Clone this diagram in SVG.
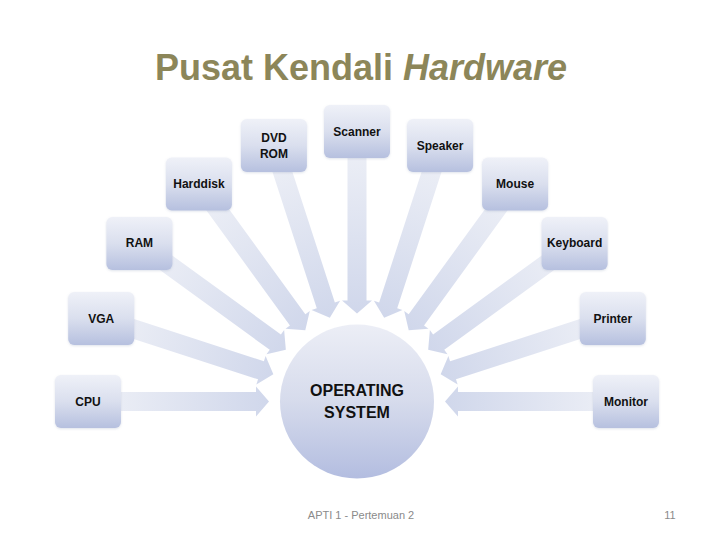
<svg xmlns="http://www.w3.org/2000/svg" xmlns:xlink="http://www.w3.org/1999/xlink" width="720" height="540" viewBox="0 0 720 540">
  <defs>
    <linearGradient id="boxGrad" x1="0" y1="0" x2="0" y2="1">
      <stop offset="0" stop-color="#eff1f8"/>
      <stop offset="0.5" stop-color="#dadfee"/>
      <stop offset="1" stop-color="#b6c0df"/>
    </linearGradient>
    <linearGradient id="circGrad" x1="0" y1="0" x2="0" y2="1">
      <stop offset="0" stop-color="#eceef6"/>
      <stop offset="0.5" stop-color="#d6dbec"/>
      <stop offset="1" stop-color="#b3bde0"/>
    </linearGradient>
    <linearGradient id="arrowGrad" x1="0" y1="0" x2="1" y2="0">
      <stop offset="0" stop-color="#eff1f7"/>
      <stop offset="1" stop-color="#d0d7eb"/>
    </linearGradient>
    <path id="arrow" d="M0,-9.5 H168 V-15 L181,0 L168,15 V9.5 H0 Z" fill="url(#arrowGrad)"/>
    <filter id="sh" x="-20%" y="-20%" width="140%" height="140%">
      <feDropShadow dx="0" dy="1" stdDeviation="1" flood-color="#8090b0" flood-opacity="0.25"/>
    </filter>
  </defs>
  <style>
    .box { fill: url(#boxGrad); filter: url(#sh); }
    .lbl { font-family: "Liberation Sans", Arial, sans-serif; font-size: 12px; font-weight: bold; fill: #111; text-anchor: middle; }
    .os { font-family: "Liberation Sans", Arial, sans-serif; font-size: 16px; font-weight: bold; fill: #111; text-anchor: middle; }
    .title { font-family: "Liberation Sans", Arial, sans-serif; font-size: 36px; font-weight: bold; fill: #8c8659; text-anchor: middle; }
    .foot { font-family: "Liberation Sans", Arial, sans-serif; font-size: 11px; fill: #8a8a8a; }
  </style>
  <rect width="720" height="540" fill="#ffffff"/>

  <text class="title" x="361" y="80">Pusat Kendali <tspan font-style="italic">Hardware</tspan></text>

  <g id="connectors">
    <use xlink:href="#arrow" transform="translate(88,401.5) rotate(0)"/>
    <use xlink:href="#arrow" transform="translate(101.2,318.4) rotate(18)"/>
    <use xlink:href="#arrow" transform="translate(139.4,243.4) rotate(36)"/>
    <use xlink:href="#arrow" transform="translate(198.9,183.9) rotate(54)"/>
    <use xlink:href="#arrow" transform="translate(273.9,145.6) rotate(72)"/>
    <use xlink:href="#arrow" transform="translate(357,132.5) rotate(90)"/>
    <use xlink:href="#arrow" transform="translate(440.1,145.6) rotate(108)"/>
    <use xlink:href="#arrow" transform="translate(515.1,183.9) rotate(126)"/>
    <use xlink:href="#arrow" transform="translate(574.6,243.4) rotate(144)"/>
    <use xlink:href="#arrow" transform="translate(612.8,318.4) rotate(162)"/>
    <use xlink:href="#arrow" transform="translate(626,401.5) rotate(180)"/>
  </g>

  <g id="os">
    <circle cx="357" cy="401.5" r="77" fill="url(#circGrad)"/>
    <text class="os" x="357" y="396">OPERATING</text>
    <text class="os" x="357" y="418">SYSTEM</text>
  </g>

  <g id="cpu">
    <rect class="box" x="55" y="375" width="66" height="53" rx="6"/>
    <text class="lbl" x="88" y="406">CPU</text>
  </g>
  <g id="vga">
    <rect class="box" x="68.2" y="292" width="66" height="53" rx="6"/>
    <text class="lbl" x="101.2" y="323">VGA</text>
  </g>
  <g id="ram">
    <rect class="box" x="106.4" y="217" width="66" height="53" rx="6"/>
    <text class="lbl" x="139.4" y="247">RAM</text>
  </g>
  <g id="harddisk">
    <rect class="box" x="165.9" y="157.4" width="66" height="53" rx="6"/>
    <text class="lbl" x="198.9" y="188">Harddisk</text>
  </g>
  <g id="dvdrom">
    <rect class="box" x="240.9" y="119" width="66" height="53" rx="6"/>
    <text class="lbl" x="273.9" y="142">DVD</text>
    <text class="lbl" x="273.9" y="158">ROM</text>
  </g>
  <g id="scanner">
    <rect class="box" x="324" y="105" width="66" height="53" rx="6"/>
    <text class="lbl" x="357" y="136">Scanner</text>
  </g>
  <g id="speaker">
    <rect class="box" x="407.1" y="119" width="66" height="53" rx="6"/>
    <text class="lbl" x="440.1" y="150">Speaker</text>
  </g>
  <g id="mouse">
    <rect class="box" x="482.1" y="157.4" width="66" height="53" rx="6"/>
    <text class="lbl" x="515.1" y="188">Mouse</text>
  </g>
  <g id="keyboard">
    <rect class="box" x="541.6" y="217" width="66" height="53" rx="6"/>
    <text class="lbl" x="574.6" y="247">Keyboard</text>
  </g>
  <g id="printer">
    <rect class="box" x="579.8" y="292" width="66" height="53" rx="6"/>
    <text class="lbl" x="612.8" y="323">Printer</text>
  </g>
  <g id="monitor">
    <rect class="box" x="593" y="375" width="66" height="53" rx="6"/>
    <text class="lbl" x="626" y="406">Monitor</text>
  </g>

  <text class="foot" x="361" y="519" text-anchor="middle">APTI 1 - Pertemuan 2</text>
  <text class="foot" x="670" y="519" text-anchor="middle">11</text>
</svg>
